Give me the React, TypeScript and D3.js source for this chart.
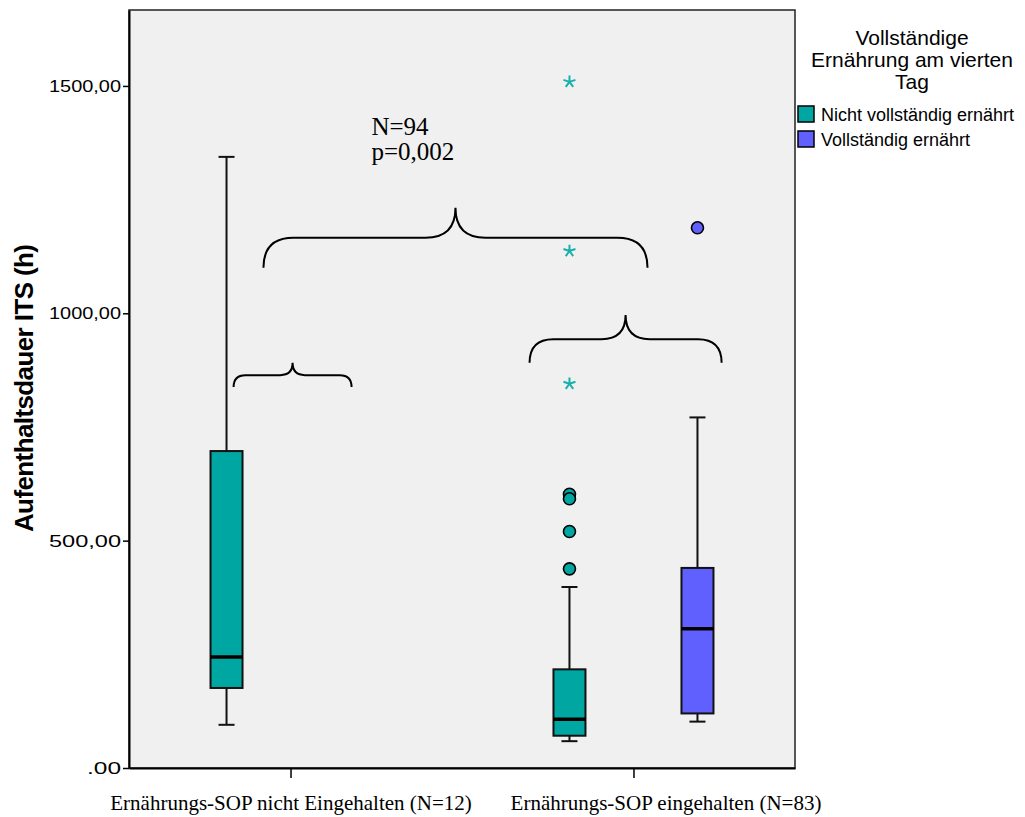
import { useEffect, useRef } from "react";
import * as d3 from "d3";

// categories and series
const groups = ["Ernährungs-SOP nicht Eingehalten (N=12)", "Ernährungs-SOP eingehalten (N=83)"];
const seriesNames = ["Nicht vollständig ernährt", "Vollständig ernährt"];
const seriesColors = ["#00a6a2", "#6060ff"];

// box statistics (one entry per box)
const boxGroup = [0, 1, 1];
const boxSeries = [0, 0, 1];
const whiskerLow = [95, 59, 102];
const q1 = [176, 71, 120];
const medians = [244, 107, 306];
const q3 = [697, 217, 440];
const whiskerHigh = [1344, 398, 771];

// outliers (circles) and extremes (stars)
const outlierGroup = [1, 1, 1, 1, 1];
const outlierSeries = [0, 0, 0, 0, 1];
const outlierValues = [602, 592, 520, 438, 1188];
const extremeGroup = [1, 1, 1];
const extremeSeries = [0, 0, 0];
const extremeValues = [1509, 1137, 845];

const yTicks = [0, 500, 1000, 1500];

// brace annotations: x in group-index units, y in data units
const braceX0 = [-0.079, 0.697, -0.166];
const braceX1 = [1.041, 1.257, 0.178];
const braceTip = [0.481, 0.977, 0.006];
const braceLine = [1166, 943, 864];
const braceEnd = [1100, 891, 838];
const braceTop = [1232, 996, 891];

const annotationLines = ["N=94", "p=0,002"];
const annotationY = [1392, 1338];

// five-spoke asterisk like the SPSS extreme marker
const asterisk5 = {
  draw(ctx: d3.Path, size: number) {
    const r = Math.sqrt(size) / 2;
    for (let k = 0; k < 5; k++) {
      const a = -Math.PI / 2 + (k * 2 * Math.PI) / 5;
      ctx.moveTo(0, 0);
      ctx.lineTo(r * Math.cos(a), r * Math.sin(a));
    }
  },
};

export default function App() {
  const svgRef = useRef<SVGSVGElement>(null);

  useEffect(() => {
    document.body.style.margin = "0";
    if (!svgRef.current) return;
    const root = d3.select(svgRef.current);
    root.selectAll("*").remove();

    const W = 1025;
    const H = 817;
    const margin = { top: 10, right: 230, bottom: 49, left: 129 };
    const width = W - margin.left - margin.right;
    const height = H - margin.top - margin.bottom;

    root.attr("width", W).attr("height", H).style("background", "#fff");

    const svg = root.append("g").attr("transform", `translate(${margin.left},${margin.top})`);

    const y = d3.scaleLinear().domain([0, 1667]).range([height, 0]);
    const x = d3.scalePoint<string>().domain(groups).range([0, width]).padding(0.471);
    const step = x.step();
    const xIdx = (v: number) => (x(groups[0]) as number) + v * step;
    const sub = d3.scalePoint<string>().domain(seriesNames).range([-64, 64]);
    const boxW = 32;
    const cx = (g: number, s: number) => (x(groups[g]) as number) + (sub(seriesNames[s]) as number);

    // plot background + frame
    svg
      .append("rect")
      .attr("width", width)
      .attr("height", height)
      .attr("fill", "#f0f0f0")
      .attr("stroke", "#222")
      .attr("stroke-width", 1.5);

    // y axis
    const yAxis = svg
      .append("g")
      .call(
        d3
          .axisLeft(y)
          .tickValues(yTicks)
          .tickSize(6)
          .tickSizeOuter(0)
          .tickPadding(2)
          .tickFormat((d) => ((d as number) === 0 ? ".00" : `${d},00`)),
      );
    yAxis.select(".domain").attr("stroke", "#000").attr("stroke-width", 2);
    yAxis.selectAll(".tick line").attr("stroke", "#000").attr("stroke-width", 1.5);
    yAxis
      .selectAll(".tick text")
      .attr("fill", "#000")
      .style("font-family", "Liberation Sans, Arial, sans-serif")
      .style("font-size", "17px")
      .attr("textLength", (d) => ((d as number) === 0 ? 34 : 72))
      .attr("lengthAdjust", "spacingAndGlyphs");

    // x axis
    const xAxis = svg
      .append("g")
      .attr("transform", `translate(0,${height})`)
      .call(d3.axisBottom(x).tickSize(10).tickSizeOuter(0).tickPadding(17));
    xAxis.select(".domain").attr("stroke", "#000").attr("stroke-width", 2);
    xAxis.selectAll(".tick line").attr("stroke", "#000").attr("stroke-width", 1.5);
    xAxis
      .selectAll(".tick text")
      .attr("fill", "#000")
      .attr("dx", (_, i) => (i === 1 ? 32 : 0))
      .style("font-family", "Liberation Serif, Times New Roman, serif")
      .style("font-size", "21px");

    // y label
    svg
      .append("text")
      .attr("transform", `translate(${-96},${y(835)}) rotate(-90)`)
      .attr("text-anchor", "middle")
      .style("font-family", "Liberation Sans, Arial, sans-serif")
      .style("font-weight", "bold")
      .style("font-size", "26px")
      .style("letter-spacing", "-0.6px")
      .text("Aufenthaltsdauer ITS (h)");

    // boxes
    boxGroup.forEach((g, i) => {
      const c = cx(g, boxSeries[i]);
      const col = seriesColors[boxSeries[i]];
      const b = svg.append("g");
      // whiskers
      b.append("line")
        .attr("x1", c).attr("x2", c)
        .attr("y1", y(whiskerHigh[i])).attr("y2", y(q3[i]))
        .attr("stroke", "#111").attr("stroke-width", 2);
      b.append("line")
        .attr("x1", c).attr("x2", c)
        .attr("y1", y(q1[i])).attr("y2", y(whiskerLow[i]))
        .attr("stroke", "#111").attr("stroke-width", 2);
      [whiskerHigh[i], whiskerLow[i]].forEach((v) => {
        b.append("line")
          .attr("x1", c - 8).attr("x2", c + 8)
          .attr("y1", y(v)).attr("y2", y(v))
          .attr("stroke", "#111").attr("stroke-width", 2);
      });
      b.append("rect")
        .attr("x", c - boxW / 2)
        .attr("width", boxW)
        .attr("y", y(q3[i]))
        .attr("height", y(q1[i]) - y(q3[i]))
        .attr("fill", col)
        .attr("stroke", "#111")
        .attr("stroke-width", 2);
      b.append("line")
        .attr("x1", c - boxW / 2).attr("x2", c + boxW / 2)
        .attr("y1", y(medians[i])).attr("y2", y(medians[i]))
        .attr("stroke", "#000").attr("stroke-width", 3.5);
    });

    // outliers
    outlierValues.forEach((v, i) => {
      svg
        .append("circle")
        .attr("cx", cx(outlierGroup[i], outlierSeries[i]))
        .attr("cy", y(v))
        .attr("r", 6)
        .attr("fill", seriesColors[outlierSeries[i]])
        .attr("stroke", "#000")
        .attr("stroke-width", 1.6);
    });

    // extremes
    const star = d3.symbol().type(asterisk5).size(160);
    extremeValues.forEach((v, i) => {
      svg
        .append("path")
        .attr("d", star())
        .attr("transform", `translate(${cx(extremeGroup[i], extremeSeries[i])},${y(v)})`)
        .attr("fill", "none")
        .attr("stroke", "#19b0ac")
        .attr("stroke-width", 2);
    });

    // braces
    braceX0.forEach((_, i) => {
      const x0 = xIdx(braceX0[i]);
      const x1 = xIdx(braceX1[i]);
      const xt = xIdx(braceTip[i]);
      const yl = y(braceLine[i]);
      const ye = y(braceEnd[i]);
      const yt = y(braceTop[i]);
      const re = ye - yl;
      const rt = yl - yt;
      const p = d3.path();
      p.moveTo(x0, ye);
      p.quadraticCurveTo(x0, yl, x0 + re, yl);
      p.lineTo(xt - rt, yl);
      p.quadraticCurveTo(xt, yl, xt, yt);
      p.quadraticCurveTo(xt, yl, xt + rt, yl);
      p.lineTo(x1 - re, yl);
      p.quadraticCurveTo(x1, yl, x1, ye);
      svg
        .append("path")
        .attr("d", p.toString())
        .attr("fill", "none")
        .attr("stroke", "#000")
        .attr("stroke-width", 2);
    });

    // annotation text
    annotationLines.forEach((t, i) => {
      svg
        .append("text")
        .attr("x", xIdx(0.236))
        .attr("y", y(annotationY[i]))
        .style("font-family", "Liberation Serif, Times New Roman, serif")
        .style("font-size", "25px")
        .text(t);
    });

    // legend
    const legend = root.append("g").attr("transform", `translate(912,0)`);
    ["Vollständige", "Ernährung am vierten", "Tag"].forEach((t, i) => {
      legend
        .append("text")
        .attr("y", 45 + i * 22)
        .attr("text-anchor", "middle")
        .style("font-family", "Liberation Sans, Arial, sans-serif")
        .style("font-size", "21px")
        .text(t);
    });
    seriesNames.forEach((name, i) => {
      const item = root.append("g").attr("transform", `translate(798,${106 + i * 25})`);
      item
        .append("rect")
        .attr("width", 16)
        .attr("height", 16)
        .attr("fill", seriesColors[i])
        .attr("stroke", "#000")
        .attr("stroke-width", 1.5);
      item
        .append("text")
        .attr("x", 23)
        .attr("y", 15)
        .style("font-family", "Liberation Sans, Arial, sans-serif")
        .style("font-size", "18px")
        .text(name);
    });
  }, []);

  return <svg ref={svgRef}></svg>;
}
